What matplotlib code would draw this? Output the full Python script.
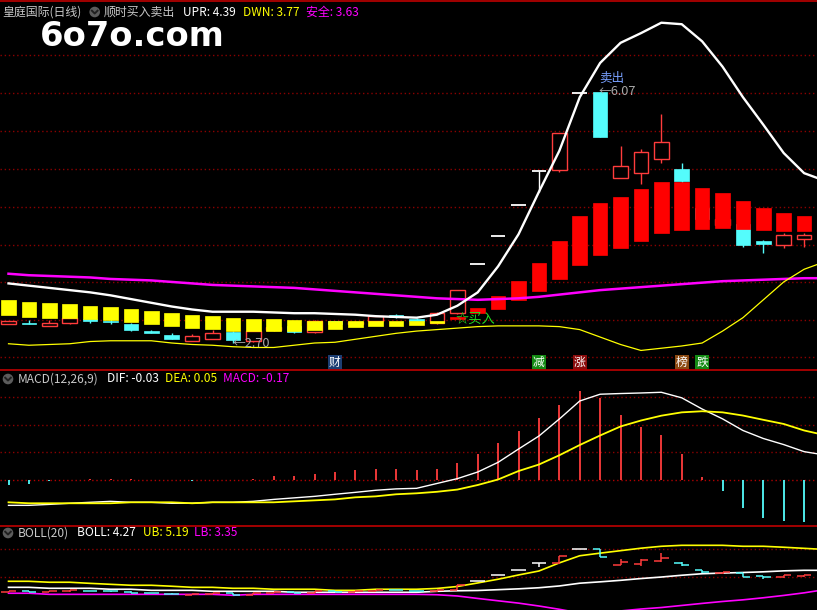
import numpy as np
import matplotlib.pyplot as plt
from matplotlib.patches import Rectangle, Circle

plt.rcParams['font.family'] = ['Noto Sans CJK SC', 'DejaVu Sans']

# daily candles (40 bars)
opens = [2.95, 2.97, 2.93, 2.97, 3.02, 3.00, 2.96, 2.86, 2.81, 2.73,
         2.76, 2.85, 2.73, 2.87, 2.93, 2.85, 2.99, 2.95, 3.00, 3.08,
         3.02, 2.97, 3.10, 3.76, 4.14, 4.55, 5.01, 5.02, 6.05, 6.07,
         4.91, 4.98, 5.17, 5.04, 4.51, 4.29, 4.30, 4.07, 4.02, 4.10]
highs = [2.99, 3.01, 3.01, 3.04, 3.02, 3.02, 2.97, 2.88, 2.84, 2.82,
         2.88, 2.86, 2.87, 2.95, 2.95, 3.01, 3.00, 2.99, 3.07, 3.09,
         3.03, 3.11, 3.41, 3.76, 4.14, 4.55, 5.01, 5.52, 6.05, 6.07,
         5.35, 5.30, 5.77, 5.12, 4.55, 4.40, 4.31, 4.08, 4.18, 4.18]
lows = [2.95, 2.95, 2.93, 2.95, 2.97, 2.96, 2.86, 2.83, 2.75, 2.73,
        2.76, 2.70, 2.72, 2.86, 2.84, 2.84, 2.94, 2.93, 2.99, 3.04,
        2.98, 2.96, 3.09, 3.76, 4.14, 4.55, 4.73, 5.00, 6.05, 5.47,
        4.91, 4.83, 5.11, 4.85, 4.33, 4.26, 3.99, 3.91, 3.97, 3.99]
closes = [2.99, 2.95, 2.97, 3.04, 3.00, 2.98, 2.87, 2.84, 2.76, 2.79,
          2.84, 2.74, 2.86, 2.92, 2.85, 3.00, 2.95, 2.98, 3.06, 3.05,
          3.00, 3.10, 3.41, 3.76, 4.14, 4.55, 5.01, 5.52, 6.05, 5.47,
          5.08, 5.26, 5.40, 4.87, 4.37, 4.37, 4.02, 4.03, 4.15, 4.15]

# 顺时买入卖出 indicator bars
ind_open = [3.28, 3.25, 3.24, 3.22, 3.20, 3.18, 3.16, 3.13, 3.10, 3.08,
            3.06, 3.04, 3.02, 3.02, 3.01, 3.00, 3.00, 3.00, 3.00, 3.00,
            3.00, 3.00, 3.02, 3.10, 3.16, 3.28, 3.40, 3.56, 3.75, 3.88,
            3.98, 4.07, 4.18, 4.22, 4.23, 4.24, 4.23, 4.22, 4.20, 4.20]
ind_close = [3.08, 3.05, 3.04, 3.03, 3.02, 3.01, 2.98, 2.96, 2.93, 2.90,
             2.89, 2.86, 2.86, 2.86, 2.86, 2.87, 2.89, 2.92, 2.93, 2.93,
             2.94, 2.97, 3.05, 3.17, 3.33, 3.53, 3.77, 4.07, 4.40, 4.58,
             4.66, 4.77, 4.86, 4.86, 4.78, 4.71, 4.61, 4.51, 4.45, 4.40]

# indicator lines (41 points, last one just past the right edge)
upr = [3.50, 3.47, 3.44, 3.41, 3.38, 3.34, 3.29, 3.24, 3.19, 3.15,
       3.12, 3.12, 3.12, 3.11, 3.10, 3.10, 3.09, 3.08, 3.06, 3.05,
       3.04, 3.08, 3.20, 3.38, 3.73, 4.16, 4.73, 5.28, 6.00, 6.46,
       6.73, 6.86, 7.00, 6.98, 6.75, 6.41, 6.00, 5.63, 5.25, 4.98, 4.88]
safe = [3.63, 3.61, 3.60, 3.59, 3.58, 3.56, 3.55, 3.54, 3.52, 3.50,
        3.48, 3.47, 3.46, 3.45, 3.44, 3.42, 3.40, 3.38, 3.36, 3.34,
        3.32, 3.30, 3.29, 3.28, 3.29, 3.30, 3.32, 3.35, 3.38, 3.41,
        3.43, 3.45, 3.47, 3.49, 3.51, 3.53, 3.54, 3.55, 3.56, 3.57, 3.57]
dwn = [2.69, 2.67, 2.68, 2.69, 2.72, 2.73, 2.73, 2.73, 2.70, 2.68,
       2.67, 2.65, 2.64, 2.64, 2.67, 2.70, 2.71, 2.75, 2.79, 2.83,
       2.86, 2.88, 2.90, 2.92, 2.93, 2.93, 2.93, 2.92, 2.88, 2.78,
       2.68, 2.60, 2.63, 2.66, 2.70, 2.86, 3.04, 3.28, 3.52, 3.69, 3.79]

# MACD(12,26,9)
dif = [-0.183, -0.183, -0.176, -0.168, -0.161, -0.154, -0.161, -0.161, -0.168, -0.168,
       -0.161, -0.161, -0.154, -0.140, -0.129, -0.118, -0.103, -0.089, -0.074, -0.064,
       -0.060, -0.025, 0.010, 0.058, 0.128, 0.224, 0.318, 0.441, 0.571, 0.620,
       0.625, 0.629, 0.634, 0.594, 0.513, 0.442, 0.358, 0.300, 0.256, 0.205, 0.181]
dea = [-0.161, -0.168, -0.168, -0.168, -0.168, -0.168, -0.161, -0.161, -0.161, -0.168,
       -0.161, -0.161, -0.161, -0.161, -0.154, -0.147, -0.140, -0.125, -0.118, -0.103,
       -0.096, -0.085, -0.069, -0.036, 0.004, 0.065, 0.112, 0.179, 0.253, 0.322,
       0.387, 0.430, 0.465, 0.489, 0.497, 0.489, 0.466, 0.435, 0.405, 0.358, 0.325]
macd = [-0.034, -0.027, -0.010, 0.0, 0.008, 0.008, 0.005, 0.0, -0.002, -0.005,
        0.003, 0.0, 0.006, 0.029, 0.029, 0.043, 0.058, 0.072, 0.080, 0.080,
        0.072, 0.080, 0.123, 0.188, 0.268, 0.354, 0.448, 0.542, 0.643, 0.593,
        0.470, 0.383, 0.325, 0.188, 0.022, -0.077, -0.200, -0.273, -0.294, -0.301]

# BOLL(20)
ub = [3.71, 3.71, 3.64, 3.64, 3.56, 3.49, 3.42, 3.42, 3.35, 3.27,
      3.27, 3.20, 3.20, 3.13, 3.13, 3.13, 3.05, 3.05, 3.13, 3.13,
      3.13, 3.19, 3.33, 3.59, 3.86, 4.17, 4.46, 5.05, 5.57, 5.76,
      5.94, 6.12, 6.26, 6.33, 6.33, 6.33, 6.26, 6.26, 6.19, 6.11, 6.03]
mid = [3.27, 3.27, 3.20, 3.20, 3.20, 3.13, 3.13, 3.05, 3.05, 3.05,
       2.98, 2.98, 2.98, 2.98, 2.91, 2.91, 2.91, 2.91, 2.91, 2.91,
       2.91, 2.98, 3.02, 3.04, 3.10, 3.16, 3.24, 3.37, 3.57, 3.67,
       3.78, 3.91, 4.02, 4.15, 4.26, 4.31, 4.35, 4.40, 4.47, 4.51, 4.51]
lb = [2.84, 2.84, 2.76, 2.76, 2.76, 2.76, 2.76, 2.76, 2.76, 2.76,
      2.76, 2.69, 2.76, 2.76, 2.76, 2.76, 2.76, 2.76, 2.76, 2.76,
      2.76, 2.73, 2.64, 2.46, 2.29, 2.12, 1.91, 1.67, 1.40, 1.33,
      1.55, 1.69, 1.80, 1.95, 2.10, 2.24, 2.36, 2.51, 2.68, 2.87, 3.10]

# signal tags under the main chart
sig_idx = [16, 26, 28, 33, 34]
sig_txt = ['财', '减', '涨', '榜', '跌']
sig_bg = ['#1c3e72', '#138a13', '#8a0c0c', '#8c4a12', '#138a13']

UP = '#ff3c3c'
DOWN = '#54fcfc'
W = 0.72
GRID = '#8b0000'

fig = plt.figure(figsize=(8.17, 6.10), dpi=100, facecolor='black')
ax = fig.add_axes([0, 241 / 610, 1, 369 / 610])
axm = fig.add_axes([0, 85 / 610, 1, 155 / 610])
axb = fig.add_axes([0, 0, 1, 84 / 610])
for a in (ax, axm, axb):
    a.set_xlim(-0.417, 39.63)
    a.axis('off')
ax.set_ylim(2.351, 7.305)
axm.set_ylim(-0.325, 0.795)
axb.set_ylim(1.619, 7.737)

xs = np.arange(len(opens))
xl = np.arange(len(upr))

# grid
for lv in [2.51, 3.01, 3.52, 4.02, 4.53, 5.04, 5.55, 6.06, 6.57]:
    ax.axhline(lv, color=GRID, lw=1, ls=(0, (1, 2)), zorder=1)
for lv in [0.0, 0.2, 0.4, 0.6]:
    axm.axhline(lv, color=GRID if lv else '#b00000', lw=1, ls=(0, (1, 2)), zorder=1)
for lv in [4.02, 6.06]:
    axb.axhline(lv, color=GRID, lw=1, ls=(0, (1, 2)), zorder=1)

# main: price candles
for i in xs:
    o, h, l, c = opens[i], highs[i], lows[i], closes[i]
    col = UP if c > o else (DOWN if c < o else 'white')
    ax.vlines(i, l, h, color=col, lw=1, zorder=2)
    if c > o:
        ax.add_patch(Rectangle((i - W / 2, o), W, c - o, facecolor='black',
                               edgecolor=col, lw=1, zorder=3))
    elif c < o:
        ax.add_patch(Rectangle((i - W / 2, c), W, o - c, facecolor=col,
                               edgecolor=col, lw=0.5, zorder=3))
    else:
        ax.hlines(o, i - W / 2, i + W / 2, color=col, lw=1.3, zorder=3)

# main: indicator bars
for i in xs:
    lo, hi = min(ind_open[i], ind_close[i]), max(ind_open[i], ind_close[i])
    col = '#ff0000' if ind_close[i] > ind_open[i] else '#ffff00'
    ax.add_patch(Rectangle((i - W / 2, lo), W, hi - lo, facecolor=col,
                           edgecolor=col, lw=0.5, zorder=4))

ax.plot(xl, safe, color='#ff00ff', lw=1.8, zorder=5)
ax.plot(xl, upr, color='white', lw=1.7, zorder=5)
ax.plot(xl, dwn, color='#ffff00', lw=0.9, zorder=5)

ax.annotate('←6.07', (29, highs[29]), xytext=(-1, 0), textcoords='offset points',
            ha='left', va='center', fontsize=9.2, color='#a8a8a8', zorder=6)
ax.annotate('卖出', (29, highs[29]), xytext=(-1, 10), textcoords='offset points',
            ha='left', va='center', fontsize=9, color='#78a0ff', zorder=6)
ax.annotate('←2.70', (11, lows[11]), xytext=(0, 0), textcoords='offset points',
            ha='left', va='center', fontsize=9.2, color='#a8a8a8', zorder=6)
ax.annotate('☆买入', (22, lows[22]), xytext=(-1, -4), textcoords='offset points',
            ha='left', va='center', fontsize=9.5, color='#22dd22', zorder=6)
for i, t, bg in zip(sig_idx, sig_txt, sig_bg):
    ax.text(i, 2.44, t, ha='center', va='center', fontsize=8.5, color='white',
            zorder=6, bbox=dict(boxstyle='square,pad=0.08', facecolor=bg, edgecolor='none'))

# MACD
for i in xs:
    if macd[i] != 0:
        axm.vlines(i, 0, macd[i], color=UP if macd[i] > 0 else DOWN, lw=1.3, zorder=2)
axm.plot(xl, dif, color='white', lw=1.0, zorder=3)
axm.plot(xl, dea, color='#ffff00', lw=1.3, zorder=3)

# BOLL with OHLC ticks
axb.plot(xl, ub, color='#ffff00', lw=1.2, zorder=3)
axb.plot(xl, mid, color='white', lw=1.2, zorder=3)
axb.plot(xl, lb, color='#ff00ff', lw=1.2, zorder=3)
for i in xs:
    o, h, l, c = opens[i], highs[i], lows[i], closes[i]
    col = UP if c > o else (DOWN if c < o else 'white')
    axb.vlines(i, l, h, color=col, lw=1.1, zorder=4)
    axb.hlines(o, i - W / 2, i, color=col, lw=1.1, zorder=4)
    axb.hlines(c, i, i + W / 2, color=col, lw=1.1, zorder=4)

# overlay in pixel coordinates for headers and separators
ov = fig.add_axes([0, 0, 1, 1], zorder=10)
ov.set_xlim(0, 817)
ov.set_ylim(610, 0)
ov.axis('off')
for yy in (0.8, 369.5, 525.5):
    ov.axhline(yy, color='#b00000', lw=1.3)


def icon(x, y):
    ov.add_patch(Circle((x, y), 5.3, facecolor='#5c5c5c', edgecolor='none'))
    ov.plot([x - 2.8, x, x + 2.8], [y - 1.3, y + 1.5, y - 1.3], color='#202020', lw=1.4)


def header(y, items):
    for x, t, col in items:
        ov.text(x, y, t, ha='left', va='center', fontsize=8.6, color=col)


header(12, [(2, '皇庭国际(日线)', '#c8c8c8'), (104, '顺时买入卖出', '#c8c8c8'),
            (183, 'UPR: 4.39', 'white'), (243, 'DWN: 3.77', '#ffff00'),
            (306, '安全: 3.63', '#ff00ff')])
icon(94.7, 12)
header(379, [(18, 'MACD(12,26,9)', '#c8c8c8'), (107, 'DIF: -0.03', 'white'),
             (165, 'DEA: 0.05', '#ffff00'), (223, 'MACD: -0.17', '#ff00ff')])
icon(8, 379)
header(533, [(18, 'BOLL(20)', '#c8c8c8'), (77, 'BOLL: 4.27', 'white'),
             (143, 'UB: 5.19', '#ffff00'), (194, 'LB: 3.35', '#ff00ff')])
icon(8, 533)

ov.text(40, 45.5, '6o7o.com', ha='left', va='baseline', fontsize=24.3,
        fontweight='bold', family='DejaVu Sans', color='white')

fig.savefig('out.png', dpi=100, facecolor='black')
